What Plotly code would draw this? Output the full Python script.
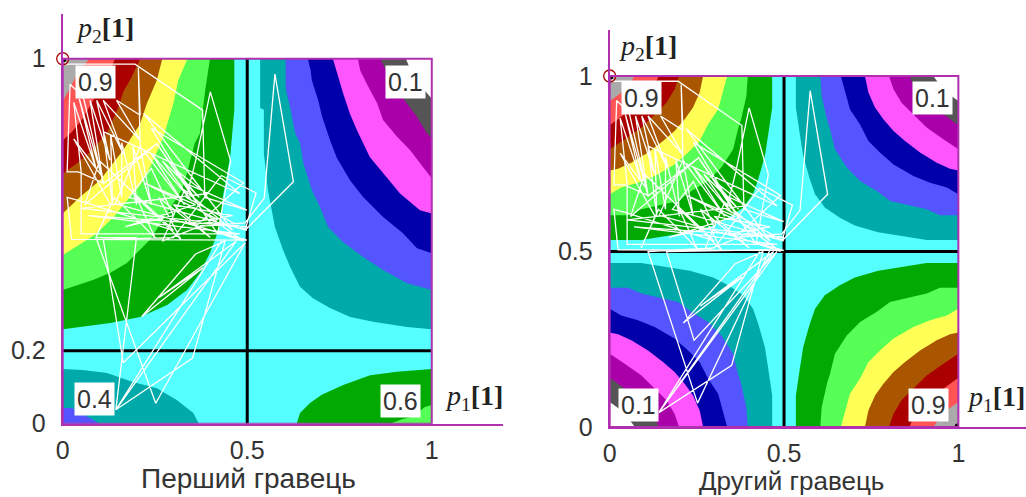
import plotly.graph_objects as go

# colours of the value bands
CYAN, TEAL, BLUE, NAVY, PINK, PURPLE, DGRAY = "#55FFFF", "#00AAAA", "#5555FF", "#0000AA", "#FF55FF", "#AA00AA", "#555555"
GREEN, LGREEN, YELLOW, BROWN, DRED, LRED, LGRAY = "#00AA00", "#55FF55", "#FFFF55", "#AA5500", "#AA0000", "#FF5555", "#AAAAAA"
WHITE = "#FFFFFF"
BOX = "#B030B0"

# LEFT CHART: level curves (p1, p2)
L_TL_1 = [(.465,1),(.465,.86),(.454,.733),(.434,.622),(.426,.54),(.399,.468),(.372,.413),(.337,.366),(.283,.325),(.21,.292),(.129,.276),(.06,.268),(0,.259)]
L_TL_2 = [(.399,1),(.386,.912),(.372,.796),(.358,.769),(.337,.687),(.323,.64),(.283,.577),(.237,.505),(.174,.44),(.128,.413),(.082,.394),(0,.366)]
L_TL_3 = [(.338,1),(.313,.94),(.30,.877),(.273,.786),(.237,.703),(.21,.655),(.137,.565),(.09,.52),(.045,.49),(0,.462)]
L_TL_4 = [(.27,1),(.255,.941),(.228,.877),(.21,.822),(.164,.75),(.101,.667),(.047,.621),(0,.576)]
L_TL_5 = [(.21,1),(.187,.95),(.164,.909),(.151,.868),(.119,.795),(.07,.74),(.038,.713),(0,.685)]
L_TL_6 = [(.142,1),(.12,.95),(.083,.886),(.05,.83),(.025,.80),(0,.776)]
L_TL_7 = [(.072,1),(.04,.96),(.02,.92),(0,.884)]
L_TR_1 = [(.535,1),(.535,.865),(.545,.86),(.545,.741),(.556,.64),(.575,.539),(.597,.476),(.616,.43),(.643,.375),(.678,.344),(.724,.317),(.779,.292),(.841,.279),(.933,.265),(1,.259)]
L_TR_2 = [(.604,1),(.604,.92),(.616,.868),(.63,.796),(.643,.769),(.652,.714),(.675,.64),(.697,.594),(.719,.539),(.76,.497),(.814,.457),(.868,.421),(.933,.385),(1,.366)]
L_TR_3 = [(.664,1),(.672,.968),(.675,.941),(.692,.887),(.703,.841),(.724,.777),(.743,.728),(.778,.668),(.814,.621),(.868,.566),(.922,.522),(.96,.481),(1,.467)]
L_TR_4 = [(.732,1),(.746,.95),(.76,.905),(.778,.85),(.797,.805),(.832,.731),(.868,.686),(.914,.631),(.968,.585),(1,.576)]
L_TR_5 = [(.8,1),(.806,.968),(.828,.923),(.852,.878),(.868,.832),(.906,.786),(.941,.75),(.977,.703),(1,.672)]
L_TR_6 = [(.86,1),(.89,.94),(.93,.881),(.96,.84),(.987,.796),(1,.782)]
L_TR_7 = [(.93,1),(.95,.95),(1,.89)]
L_BL_1 = [(0,.15),(.055,.147),(.12,.139),(.19,.114),(.255,.097),(.309,.065),(.354,.029),(.369,0)]
L_BL_2 = [(0,.043),(.025,.043),(.083,.01),(.1,0)]
L_BR_1 = [(.634,0),(.643,.029),(.67,.057),(.702,.079),(.76,.106),(.833,.133),(.905,.142),(1,.15)]
L_BR_2 = [(.887,0),(.92,.012),(.95,.02),(.98,.045),(1,.051)]

# RIGHT CHART: level curves, as distances from the nearest corner (the four corners show the same bands)
R_1 = [(.466,0),(.466,.09),(.454,.171),(.445,.228),(.426,.294),(.411,.337),(.383,.375),(.34,.404),(.297,.426),(.23,.445),(.167,.455),(.091,.467),(0,.467)]
R_2 = [(.396,0),(.392,.057),(.377,.123),(.368,.152),(.354,.209),(.335,.237),(.32,.261),(.282,.299),(.234,.328),(.196,.356),(.148,.366),(.091,.38),(.053,.397),(0,.397)]
R_3 = [(.337,0),(.325,.047),(.311,.095),(.282,.138),(.258,.185),(.225,.218),(.186,.252),(.129,.285),(.081,.304),(.033,.318),(0,.337)]
R_4 = [(.268,0),(.258,.047),(.239,.09),(.215,.123),(.186,.157),(.153,.185),(.11,.218),(.062,.247),(.024,.264),(0,.269)]
R_5 = [(.199,0),(.186,.038),(.163,.076),(.129,.109),(.091,.147),(.043,.18),(0,.209)]
R_6 = [(.14,0),(.125,.04),(.09,.075),(.05,.105),(.01,.135),(0,.14)]
R_7 = [(.072,0),(.05,.03),(.03,.05),(0,.071)]

# mixed-strategy path
PATH_COMMON = [(0,1),(.01,.985),(.196,.985),(.379,.859),(.385,.62),(.499,.585),(.33,.66),(.255,.767),(.11,.658),
    (.056,.895),(.02,.93),(.012,.69),(.042,.69),(.11,.66),(.074,.886),(.128,.722),(.092,.886),(.164,.74),(.11,.886),
    (.21,.776),(.146,.886),(.21,.845),(.205,.975),(.21,.76),(.142,.603),(.499,.503),(.024,.505),(.012,.62),(.042,.612),
    (.30,.53),(.10,.72),(.06,.60),(.255,.767),(.42,.52),(.455,.72),(.4,.909),(.36,.72),(.335,.62),(.499,.53),(.18,.62),
    (.24,.70),(.30,.57),(.17,.54),(.36,.60),(.22,.66),(.42,.56),(.27,.50),(.33,.64),(.46,.53),(.219,.85),(.48,.63),
    (.11,.8),(.135,.60),(.13,.79),(.16,.62),(.16,.77),(.20,.60),(.19,.76),(.24,.60),(.21,.76),(.33,.60),(.24,.74),(.35,.61),
    (.27,.72),(.37,.62),(.30,.70),(.39,.63),(.135,.60),(.05,.59),(.50,.54),(.07,.57),(.48,.52),(.05,.52),(.05,.69),
    (.03,.88),(.09,.70),(.045,.89),(.105,.68),(.03,.78),(.13,.60),(.09,.51),(.14,.62),(.25,.51),(.20,.62),(.32,.505),
    (.26,.62),(.40,.51),(.30,.60),(.46,.57),(.34,.55),(.49,.50),(.38,.58),(.24,.81),(.49,.66),(.36,.54),
    (.494,.55),(.546,.618),(.575,.958),(.625,.663),(.494,.53),(.524,.632),(.43,.68),(.30,.51)]
PATH_LEFT = [(.11,.505),(.164,.167),(.494,.495),(.252,.056),(.09,.51),(.2,.51),(.144,.038),(.352,.18),(.44,.50),
    (.36,.465),(.214,.293),(.38,.427),(.26,.345),(.47,.5),(.144,.038),(.43,.5)]
PATH_RIGHT = [(.11,.5),(.252,.068),(.46,.505),(.163,.5),(.242,.247),(.48,.5),(.141,.041),(.35,.176),(.44,.5),
    (.36,.465),(.211,.296),(.38,.427),(.26,.345),(.47,.5),(.141,.041),(.43,.5)]

# tick labels and text
L_XTICKS = [0, .5, 1]
L_YTICKS = [0, .2, 1]
R_XTICKS = [0, .5, 1]
R_YTICKS = [0, .5, 1]
L_SADDLE = (.5, .2)
R_SADDLE = (.5, .5)
L_CORNERS = [(.089,.9375,"0.9"),(.93,.9375,"0.1"),(.086,.068,"0.4"),(.915,.062,"0.6")]
R_CORNERS = [(.09,.936,"0.9"),(.925,.936,"0.1"),(.082,.064,"0.1"),(.914,.064,"0.9")]
TITLE_LEFT = "Перший гравець"
TITLE_RIGHT = "Другий гравець"

fig = go.Figure()

def poly(pts, corner, color, ax):
    xs = [p[0] for p in pts] + [corner[0]]
    ys = [p[1] for p in pts] + [corner[1]]
    xs.append(xs[0]); ys.append(ys[0])
    fig.add_trace(go.Scatter(x=xs, y=ys, mode="lines", fill="toself", fillcolor=color,
                             line=dict(width=0, color=color), hoverinfo="skip", showlegend=False,
                             xaxis="x" + ax, yaxis="y" + ax))

def line(pts, color, width, ax):
    fig.add_trace(go.Scatter(x=[p[0] for p in pts], y=[p[1] for p in pts], mode="lines",
                             line=dict(width=width, color=color), hoverinfo="skip", showlegend=False,
                             xaxis="x" + ax, yaxis="y" + ax))

HIGH = [GREEN, LGREEN, YELLOW, BROWN, DRED, LRED, LGRAY]
LOW = [TEAL, BLUE, NAVY, PINK, PURPLE, DGRAY, WHITE]

# left chart
poly([(0,0),(1,0),(1,1),(0,1)], (0,0), CYAN, "")
for c, col in zip([L_TL_1,L_TL_2,L_TL_3,L_TL_4,L_TL_5,L_TL_6,L_TL_7], HIGH):
    poly(c, (0,1), col, "")
for c, col in zip([L_TR_1,L_TR_2,L_TR_3,L_TR_4,L_TR_5,L_TR_6,L_TR_7], LOW):
    poly(c, (1,1), col, "")
for c, col in zip([L_BL_1,L_BL_2], LOW):
    poly(c, (0,0), col, "")
for c, col in zip([L_BR_1,L_BR_2], HIGH):
    poly(c, (1,0), col, "")
line([(L_SADDLE[0],0),(L_SADDLE[0],1)], "black", 3, "")
line([(0,L_SADDLE[1]),(1,L_SADDLE[1])], "black", 3, "")
line(PATH_COMMON + PATH_LEFT, "white", 1.3, "")

# right chart
poly([(0,0),(1,0),(1,1),(0,1)], (0,0), CYAN, "2")
for c, hi, lo in zip([R_1,R_2,R_3,R_4,R_5,R_6,R_7], HIGH, LOW):
    poly([(u, 1-v) for u, v in c], (0,1), hi, "2")
    poly([(1-u, v) for u, v in c], (1,0), hi, "2")
    poly([(1-u, 1-v) for u, v in c], (1,1), lo, "2")
    poly([(u, v) for u, v in c], (0,0), lo, "2")
line([(R_SADDLE[0],0),(R_SADDLE[0],1)], "black", 3, "2")
line([(0,R_SADDLE[1]),(1,R_SADDLE[1])], "black", 3, "2")
line(PATH_COMMON + PATH_RIGHT, "white", 1.3, "2")

# start markers
for ax in ["", "2"]:
    fig.add_trace(go.Scatter(x=[.004], y=[.996], mode="markers", marker=dict(size=4, color="black"),
                             hoverinfo="skip", showlegend=False, xaxis="x"+ax, yaxis="y"+ax, cliponaxis=False))
    fig.add_trace(go.Scatter(x=[0], y=[1], mode="markers",
                             marker=dict(size=12, color="rgba(0,0,0,0)", line=dict(width=1.3, color="#AA0000")),
                             hoverinfo="skip", showlegend=False, xaxis="x"+ax, yaxis="y"+ax, cliponaxis=False))
fig.add_trace(go.Scatter(x=[.996], y=[.004], mode="markers", marker=dict(size=4, color="black"),
                         hoverinfo="skip", showlegend=False, xaxis="x2", yaxis="y2", cliponaxis=False))

W, H = 1026, 497
TICK = dict(family="Liberation Sans", size=25, color="#333333")
def xaxis(dom, rng, ticks, anchor):
    return dict(domain=dom, range=rng, anchor=anchor, tickmode="array", tickvals=ticks, ticktext=[str(t) for t in ticks],
                showgrid=False, zeroline=False, showline=True, linecolor=BOX, linewidth=2, ticks="",
                tickfont=TICK, ticklabelstandoff=3, fixedrange=True, automargin=False)
def yaxis(dom, rng, ticks, anchor):
    return dict(domain=dom, range=rng, anchor=anchor, tickmode="array", tickvals=ticks, ticktext=[str(t) for t in ticks],
                showgrid=False, zeroline=False, showline=True, linecolor=BOX, linewidth=2, ticks="",
                tickfont=TICK, ticklabelstandoff=10, fixedrange=True, automargin=False)

shapes = [dict(type="rect", xref="x"+a, yref="y"+a, x0=0, y0=0, x1=1, y1=1,
               line=dict(color=BOX, width=2), fillcolor="rgba(0,0,0,0)", layer="above") for a in ["", "2"]]

ann = []
for a, corners in [("", L_CORNERS), ("2", R_CORNERS)]:
    for x, y, t in corners:
        ann.append(dict(x=x, y=y, xref="x"+a, yref="y"+a, text=t, showarrow=False, bgcolor="white", borderpad=2,
                        xanchor="center", yanchor="middle",
                        font=dict(family="Liberation Sans", size=25, color="#333333")))
SERIF = dict(family="Liberation Serif", size=28, color="#222222")
def lab(x, y, t):
    ann.append(dict(x=x/W, y=1-y/H, xref="paper", yref="paper", text=t, showarrow=False, font=SERIF,
                    xanchor="center", yanchor="middle"))
lab(105, 29, "<i>p</i><sub>2</sub><b>[1]</b>")
lab(474, 397, "<i>p</i><sub>1</sub><b>[1]</b>")
lab(648, 48, "<i>p</i><sub>2</sub><b>[1]</b>")
lab(996, 398, "<i>p</i><sub>1</sub><b>[1]</b>")
for x, y, t, s in [(248, 478, TITLE_LEFT, 28), (791, 481, TITLE_RIGHT, 26)]:
    ann.append(dict(x=x/W, y=1-y/H, xref="paper", yref="paper", text=t, showarrow=False,
                    xanchor="center", yanchor="middle",
                    font=dict(family="Liberation Sans", size=s, color="#333333")))

fig.update_layout(
    width=W, height=H, margin=dict(l=0, r=0, t=0, b=0, pad=0), paper_bgcolor="white", plot_bgcolor="white",
    showlegend=False, shapes=shapes, annotations=ann,
    xaxis=xaxis([62.7/W, 503/W], [0, 1.193], L_XTICKS, "y"),
    yaxis=yaxis([(H-423.7)/H, (H-14)/H], [0, 1.1225], L_YTICKS, "x"),
    xaxis2=xaxis([609.7/W, 1.0], [0, 1.194], R_XTICKS, "y2"),
    yaxis2=yaxis([(H-427)/H, (H-30)/H], [0, 1.131], R_YTICKS, "x2"),
)
fig.write_html("out.html", config=dict(displayModeBar=False),
               post_script="document.body.style.margin='0';document.documentElement.style.overflow='hidden';")
